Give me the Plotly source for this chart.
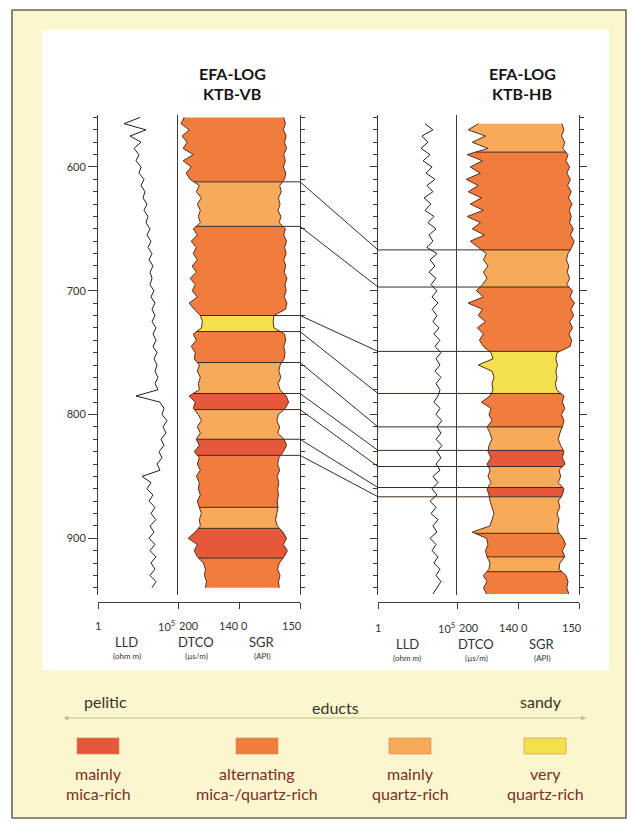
import numpy as np
import plotly.graph_objects as go

W, H = 632, 825

# ---------------------------------------------------------------- data
# depth index of the log samples (m)
VB_DEPTH = list(range(560, 941, 5))
HB_DEPTH = list(range(565, 946, 5))

# KTB-VB (pilot hole)
VB_LLD = [420, 42, 1000, 100, 490, 178, 365, 237, 490, 365, 750,
          490, 865, 650, 1150, 750, 1330, 1000,
          1780, 1150, 2050, 1330, 2370, 1540, 2740, 1780, 2370, 1780, 3160, 2050, 3650, 2370,
          3650, 2370, 4210,
          2740, 4210, 2740, 4870, 3160,
          4870, 3650, 5620, 3650, 5620,
          237, 7500, 13300,
          10000, 20500, 11500, 17800,
          8660, 13300, 6490,
          10000, 4870, 7500, 560, 2050, 1150, 2740, 1540, 3650,
          2050, 4210, 1780,
          3160, 1540, 3650, 1780, 4210,
          2050, 3650, 1780, 4210, 2370]
VB_DTCO = [194, 197, 189, 196, 191, 195, 185, 195, 187, 192, 188,
           179, 182, 177, 181, 178, 180, 178,
           185, 181, 187, 182, 185, 181, 186, 182, 188, 183, 186, 181, 189, 184,
           178, 176, 177,
           185, 182, 187, 183, 184,
           179, 181, 178, 180, 179,
           189, 183, 185,
           180, 177, 181, 178,
           182, 179, 184,
           179, 181, 178, 182, 179, 180, 178, 181, 179,
           177, 179, 178,
           183, 190, 181, 184, 181,
           175, 173, 174, 172, 173]
VB_SGR = [110, 114, 109, 116, 112, 117, 110, 114, 109, 115, 112,
          100, 104, 97, 101, 96, 103, 99,
          114, 110, 117, 112, 116, 110, 115, 111, 118, 113, 116, 111, 118, 114,
          86, 84, 86,
          112, 115, 110, 113, 111,
          101, 98, 103, 96, 101,
          116, 122, 114,
          97, 93, 100, 95,
          111, 117, 109,
          98, 95, 100, 94, 98, 95, 97, 94, 96,
          93, 90, 94,
          108, 117, 109, 119, 111,
          99, 95, 101, 97, 99]

# KTB-HB (main hole)
HB_LLD = [940, 3000, 600, 1450, 530, 1960, 710, 2640, 1100, 4030, 1250, 3000, 820, 2270, 940,
          3450, 1450, 4700, 1700, 3000, 1250,
          5400, 1960, 4030, 1700, 4700, 2270, 5400, 2640, 6270, 2640, 5400, 3000, 7200, 3450,
          8400, 4030, 9700, 4700, 8400, 4030,
          9700, 4700, 8400, 6270, 3450, 8400, 4700, 11000, 5400, 9700, 4700, 11000, 5400, 9700,
          4700, 8400, 3000, 6270, 2640, 5400,
          1960, 4700, 2270, 6270, 3000, 5400, 1960, 4700, 2640, 6270, 3450, 8400, 4700, 9700,
          5400, 3000]
HB_DTCO = [179, 189, 172, 185, 169.5, 190, 175, 187, 177, 191, 179, 189, 176, 187, 174, 190,
           177, 185, 173, 187, 179,
           171, 174, 169.5, 174, 170.5, 175,
           181, 174, 189, 175, 179, 172, 180, 174, 178, 174,
           166.5, 164.6, 179, 165.6, 163.6, 165.6, 164.6,
           167.5, 176, 166.5, 168.5, 165.6, 170.5,
           167.5, 165.6, 168.5,
           169.5, 166.5, 170.5,
           167.5, 169.5, 166.5,
           170.5, 168.5,
           167.5, 165.6, 163.6, 165.6, 167.5, 185,
           171, 169.5, 172, 170.5,
           167.5, 168.5,
           174, 170.5, 174, 171]
HB_SGR = [108, 113, 107, 115, 110,
          123, 118, 127, 120, 129, 122, 131, 124, 133, 126, 131, 127, 136, 129, 138, 132,
          123, 119, 125, 121, 127, 120,
          134, 128, 139, 130, 137, 127, 134, 125, 132, 128,
          96, 93, 97, 93, 96, 92, 95,
          113, 109, 115, 107, 113, 109,
          103, 99, 105,
          113, 109, 116,
          101, 105, 99,
          113, 109,
          99, 103, 96, 101, 97, 99,
          111, 117, 109, 115,
          103, 101,
          118, 123, 120, 125]

# lithological units (top depths) and their class
VB_TOPS = [560, 612, 648, 720, 733, 758, 783, 796, 820, 833, 875, 892, 916]
VB_BASE = 940
VB_CLASS = ["alt", "quartz", "alt", "very", "alt", "quartz", "mica", "quartz",
            "mica", "alt", "quartz", "mica", "alt"]
HB_TOPS = [565, 588, 667, 697, 749, 783, 810, 829, 842, 859, 866.5, 896, 915, 927]
HB_BASE = 945
HB_CLASS = ["quartz", "alt", "quartz", "alt", "very", "alt", "quartz", "mica",
            "quartz", "mica", "quartz", "alt", "quartz", "alt"]

# correlated unit boundaries VB -> HB
CORR_VB = [612, 648, 720, 733, 758, 783, 796, 820, 833]
CORR_HB = [667, 697, 749, 783, 810, 829, 842, 859, 866.5]

CLASS_KEYS = ["mica", "alt", "quartz", "very"]
CLASS_LABELS = [("mainly", "mica-rich"), ("alternating", "mica-/quartz-rich"),
                ("mainly", "quartz-rich"), ("very", "quartz-rich")]
CLASS_COLORS = {"mica": "#e5583a", "alt": "#f07c3e", "quartz": "#f6aa5a", "very": "#f2e04c"}

DEPTH_MAJOR = [600, 700, 800, 900]
DEPTH_MINOR = list(range(560, 946, 10))

# ---------------------------------------------------------------- helpers
FONT = "Lato"
INK = "#2e2a26"


def px(p):
    return p / W


def py(p):
    return 1 - p / H


def dt_x(v):
    # DTCO 200..140 on the left half of the combined track
    return (200.0 - np.asarray(v, float)) / 60.0


def gr_x(v):
    # SGR 0..150 on the right half of the combined track
    return 1.0 + np.asarray(v, float) / 150.0


def band_polygon(depth, left, right, top, base):
    d = np.asarray(depth, float)
    inner = d[(d > top) & (d < base)]
    dd = np.concatenate([[top], inner, [base]])
    lx = np.interp(dd, d, left)
    rx = np.interp(dd, d, right)
    xs = np.concatenate([lx, rx[::-1], lx[:1]])
    ys = np.concatenate([dd, dd[::-1], dd[:1]])
    return xs, ys


fig = go.Figure()
LINE = "#3b2a22"


def add_well(depth, lld, dtco, sgr, tops, base, classes, corr, xl, xt, corr_side):
    dl = dt_x(dtco)
    gr = gr_x(sgr)
    bounds = list(tops) + [base]
    for i, cls in enumerate(classes):
        xs, ys = band_polygon(depth, dl, gr, bounds[i], bounds[i + 1])
        fig.add_trace(go.Scatter(x=xs, y=ys, xaxis=xt, yaxis="y", mode="lines",
                                 fill="toself", fillcolor=CLASS_COLORS[cls],
                                 line=dict(width=0), hoverinfo="skip"))
    # unit boundaries
    bx, by = [], []
    lx_, ly_ = [], []
    for t in tops[1:]:
        l = float(np.interp(t, depth, dl))
        r = float(np.interp(t, depth, gr))
        if t in corr:
            if corr_side == "right":
                bx += [l, 2.0, None]
            else:
                bx += [0.0, r, None]
                lx_ += [1, 1e5, None]
                ly_ += [t, t, None]
        else:
            bx += [l, r, None]
        by += [t, t, None]
    fig.add_trace(go.Scatter(x=bx, y=by, xaxis=xt, yaxis="y", mode="lines",
                             line=dict(color=LINE, width=1), hoverinfo="skip"))
    if lx_:
        fig.add_trace(go.Scatter(x=lx_, y=ly_, xaxis=xl, yaxis="y", mode="lines",
                                 line=dict(color=LINE, width=1), hoverinfo="skip"))
    # log curves
    fig.add_trace(go.Scatter(x=dl, y=depth, xaxis=xt, yaxis="y", mode="lines",
                             line=dict(color="#5a2c1c", width=1), hoverinfo="skip"))
    fig.add_trace(go.Scatter(x=gr, y=depth, xaxis=xt, yaxis="y", mode="lines",
                             line=dict(color="#5a2c1c", width=1), hoverinfo="skip"))
    fig.add_trace(go.Scatter(x=lld, y=depth, xaxis=xl, yaxis="y", mode="lines",
                             line=dict(color="#1e1e1e", width=1), hoverinfo="skip"))


add_well(VB_DEPTH, VB_LLD, VB_DTCO, VB_SGR, VB_TOPS, VB_BASE, VB_CLASS, CORR_VB,
         "x", "x2", "right")
add_well(HB_DEPTH, HB_LLD, HB_DTCO, HB_SGR, HB_TOPS, HB_BASE, HB_CLASS, CORR_HB,
         "x3", "x4", "left")

# correlation lines between the two holes
cx, cy = [], []
for a, b in zip(CORR_VB, CORR_HB):
    cx += [0, 1, None]
    cy += [a, b, None]
fig.add_trace(go.Scatter(x=cx, y=cy, xaxis="x5", yaxis="y", mode="lines",
                         line=dict(color=LINE, width=1), hoverinfo="skip"))

# ---------------------------------------------------------------- axes
Y_TOP, Y_BOT = 115.0, 595.2
DEPTH_RANGE = [946, 558]
AX = "#3a3a3a"


def depth_axis(anchor, side, tickvals, ticklen, line=True, labels=False, overlay=True):
    d = dict(range=DEPTH_RANGE, autorange=False, anchor=anchor, side=side,
             showgrid=False, zeroline=False, showline=line, linecolor=AX, linewidth=1,
             tickmode="array", tickvals=tickvals,
             ticks="outside" if ticklen else "", ticklen=ticklen, tickcolor=AX, tickwidth=1,
             showticklabels=labels,
             tickfont=dict(family=FONT, size=11, color="#333"))
    if overlay:
        d["overlaying"] = "y"
    else:
        d["domain"] = [py(Y_BOT), py(Y_TOP)]
    return d


def bottom_axis(x0, x1, rng, tickvals, log=False):
    d = dict(domain=[px(x0), px(x1)], range=rng, anchor="free", position=py(602),
             showgrid=False, zeroline=False, showline=True, linecolor=AX, linewidth=1,
             tickmode="array", tickvals=tickvals, ticks="outside", ticklen=6,
             tickcolor=AX, showticklabels=False)
    if log:
        d["type"] = "log"
    return d


# depth scales: (y-axis name, x-axis it sits on, side, tick values, tick length, axis line)
DEPTH_SCALES = [
    ("yaxis5", "x", "left", DEPTH_MINOR, 4, False),
    ("yaxis2", "x2", "right", DEPTH_MAJOR, 7, True),
    ("yaxis6", "x2", "right", DEPTH_MINOR, 4, False),
    ("yaxis3", "x3", "left", DEPTH_MAJOR, 7, True),
    ("yaxis7", "x3", "left", DEPTH_MINOR, 4, False),
    ("yaxis4", "x4", "right", DEPTH_MAJOR, 7, True),
    ("yaxis8", "x4", "right", DEPTH_MINOR, 4, False),
    ("yaxis9", "x2", "left", [], 0, True),     # DTCO base line, VB
    ("yaxis10", "x4", "left", [], 0, True),    # DTCO base line, HB
]

layout_axes = dict(
    xaxis=bottom_axis(98, 178, [0, 5], [1, 1e5], log=True),
    xaxis2=bottom_axis(178, 300, [0, 2], [0, 1, 2]),
    xaxis3=bottom_axis(378, 457, [0, 5], [1, 1e5], log=True),
    xaxis4=bottom_axis(457, 579, [0, 2], [0, 1, 2]),
    xaxis5=dict(domain=[px(300), px(378)], range=[0, 1], anchor="free", position=0,
                visible=False),
    yaxis=depth_axis("x", "left", DEPTH_MAJOR, 9, labels=True, overlay=False),
)
for name, xa, side, vals, tl, ln in DEPTH_SCALES:
    layout_axes[name] = depth_axis(xa, side, vals, tl, line=ln)
    # empty trace so the overlaid scale gets its own subplot
    fig.add_trace(go.Scatter(x=[None], y=[None], xaxis=xa, yaxis="y" + name[5:],
                             mode="lines", hoverinfo="skip"))

fig.update_layout(
    width=W, height=H, margin=dict(l=0, r=0, t=0, b=0),
    paper_bgcolor="white", plot_bgcolor="rgba(0,0,0,0)", showlegend=False,
    font=dict(family=FONT, color=INK),
    **layout_axes,
)

# frame and panels
fig.add_shape(type="rect", xref="paper", yref="paper", x0=px(12), x1=px(626), y0=py(818), y1=py(10),
              fillcolor="#faf6cf", line=dict(color="#706758", width=1.6), layer="below")
fig.add_shape(type="rect", xref="paper", yref="paper", x0=px(42), x1=px(609), y0=py(670), y1=py(30),
              fillcolor="white", line=dict(width=0), layer="below")


def text(x, y, s, size, color=INK, bold=False, anchor="center"):
    fig.add_annotation(x=px(x), y=py(y), xref="paper", yref="paper", text=s, showarrow=False,
                       xanchor=anchor, yanchor="middle",
                       font=dict(family=FONT, size=size, color=color,
                                 weight="bold" if bold else "normal"))


# titles
for cx_, name in [(232, "KTB-VB"), (522, "KTB-HB")]:
    text(cx_, 73, "EFA-LOG", 16, "#151515", bold=True)
    text(cx_, 93, name, 16, "#151515", bold=True)

# bottom scale labels
for off, yl in [(0, 625), (280, 627)]:
    text(98 + off, yl, "1", 11, "#333")
    text(166 + off, yl, "10<sup>5</sup>", 11, "#333")
    text(189 + off, yl, "200", 11, "#333")
    text(229 + off, yl, "140", 11, "#333")
    text(244 + off, yl, "0", 11, "#333")
    text(292 + off, yl, "150", 11, "#333")
    text(127 + off, yl + 17, "LLD", 13, "#333")
    text(127 + off, yl + 31, "(ohm m)", 8, "#333")
    text(196 + off, yl + 17, "DTCO", 13, "#333")
    text(196 + off, yl + 31, "(µs/m)", 8, "#333")
    text(262 + off, yl + 17, "SGR", 13, "#333")
    text(262 + off, yl + 31, "(API)", 8, "#333")

# educt scale
text(105, 701, "pelitic", 16, "#3c3323")
text(335, 707, "educts", 16, "#3c3323")
text(541, 701, "sandy", 16, "#3c3323")
fig.add_annotation(x=px(586), y=py(718), xref="paper", yref="paper",
                   axref="pixel", ayref="pixel", ax=-(586 - 62), ay=0, text="",
                   showarrow=True, arrowhead=2, arrowside="end+start", arrowsize=0.8,
                   arrowwidth=1.2, arrowcolor="#c9bd86")

# class legend
SW_X = [98, 257, 410, 545]
for cxl, key, (l1, l2) in zip(SW_X, CLASS_KEYS, CLASS_LABELS):
    fig.add_shape(type="rect", xref="paper", yref="paper", x0=px(cxl - 21), x1=px(cxl + 21),
                  y0=py(754), y1=py(738), fillcolor=CLASS_COLORS[key],
                  line=dict(color="#c98a50", width=0.6))
    text(cxl, 773, l1, 16, "#7a3024")
    text(cxl, 793, l2, 16, "#7a3024")

fig.write_html("out.html")
